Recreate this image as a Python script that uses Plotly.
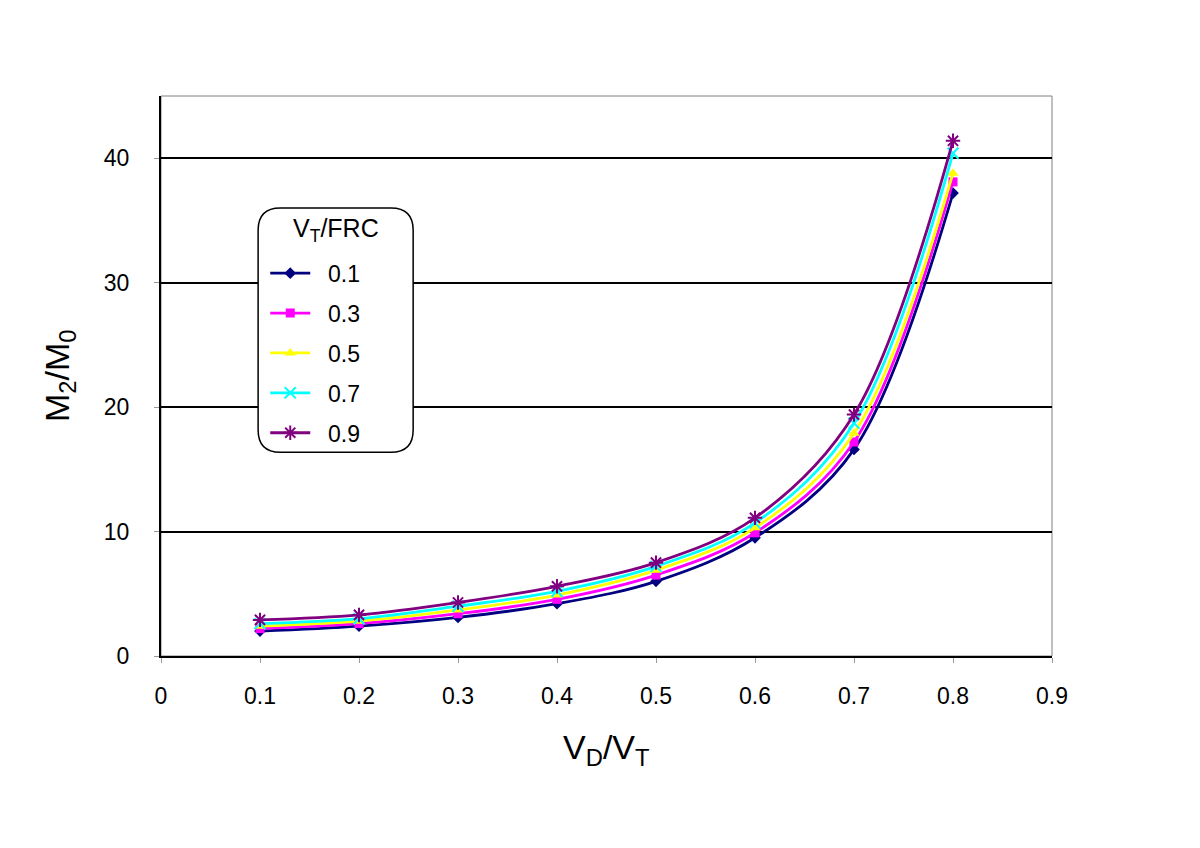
import plotly.graph_objects as go

x_vals = [0.1, 0.2, 0.3, 0.4, 0.5, 0.6, 0.7, 0.8]
series_names = ["0.1", "0.3", "0.5", "0.7", "0.9"]
y_01 = [2.0, 2.4, 3.1, 4.2, 6.0, 9.5, 16.6, 37.2]
y_03 = [2.2, 2.6, 3.4, 4.55, 6.5, 9.9, 17.2, 38.1]
y_05 = [2.4, 2.8, 3.7, 4.9, 6.9, 10.3, 17.9, 38.8]
y_07 = [2.6, 3.0, 4.0, 5.2, 7.2, 10.7, 18.7, 40.4]
y_09 = [2.9, 3.3, 4.3, 5.6, 7.5, 11.1, 19.4, 41.4]
x_ticks = [0, 0.1, 0.2, 0.3, 0.4, 0.5, 0.6, 0.7, 0.8, 0.9]
x_tick_labels = ["0", "0.1", "0.2", "0.3", "0.4", "0.5", "0.6", "0.7", "0.8", "0.9"]
y_ticks = [0, 10, 20, 30, 40]

series = [y_01, y_03, y_05, y_07, y_09]
colors = ["#000080", "#FF00FF", "#FFFF00", "#00FFFF", "#800080"]
symbols = ["diamond", "square", "triangle-up", "x-thin", "asterisk"]
sizes = [9, 9, 10, 11, 12]

FONT = "Liberation Sans, Arial, sans-serif"

fig = go.Figure()
for i, (name, ys) in enumerate(zip(series_names, series)):
    sym = symbols[i]
    marker = dict(symbol=sym, size=sizes[i], color=colors[i])
    if sym in ("x-thin", "asterisk"):
        marker["line"] = dict(color=colors[i], width=2)
    fig.add_trace(go.Scatter(
        x=x_vals, y=ys, name="\u00a0\u00a0" + name, mode="lines+markers",
        line=dict(color=colors[i], width=2.8, shape="spline"),
        marker=marker, legendgroup=name,
    ))

# plot frame (gray top/right)
fig.add_shape(type="rect", xref="paper", yref="paper", x0=0, x1=1, y0=0, y1=1,
              line=dict(color="#808080", width=1), layer="below")

# rounded legend box
lx0, lx1, ly0, ly1 = 0.109, 0.283, 0.364, 0.80
r = 0.025
ry = r * 891 / 560
path = (f"M {lx0+r},{ly1} L {lx1-r},{ly1} Q {lx1},{ly1} {lx1},{ly1-ry} "
        f"L {lx1},{ly0+ry} Q {lx1},{ly0} {lx1-r},{ly0} L {lx0+r},{ly0} "
        f"Q {lx0},{ly0} {lx0},{ly0+ry} L {lx0},{ly1-ry} Q {lx0},{ly1} {lx0+r},{ly1} Z")
fig.add_shape(type="path", xref="paper", yref="paper", path=path,
              line=dict(color="black", width=1.5), fillcolor="white", layer="above")

annotations = [
    dict(text="V<sub>T</sub>/FRC", xref="paper", yref="paper",
         x=(lx0 + lx1) / 2, y=(656 - 230) / 560, xanchor="center", yanchor="middle",
         showarrow=False, font=dict(size=25, family=FONT, color="black")),
    dict(text="V<sub>D</sub>/V<sub>T</sub>", xref="paper", yref="paper",
         x=0.5, y=0, xanchor="center", yanchor="top", yshift=-70,
         showarrow=False, font=dict(size=34, family=FONT, color="black")),
    dict(text="M<sub>2</sub>/M<sub>0</sub>", xref="paper", yref="paper",
         x=0, y=0.5, xanchor="center", yanchor="middle", xshift=-102, textangle=-90,
         showarrow=False, font=dict(size=34, family=FONT, color="black")),
]

fig.update_layout(
    width=1200, height=848,
    margin=dict(l=153, r=156, t=88, b=200),
    paper_bgcolor="white", plot_bgcolor="white",
    font=dict(family=FONT, color="black", size=22),
    showlegend=True,
    annotations=annotations,
    legend=dict(
        x=0.117, y=0.722, xanchor="left", yanchor="top",
        bgcolor="rgba(0,0,0,0)", borderwidth=0,
        font=dict(size=23, family=FONT),
        tracegroupgap=7, itemwidth=40,
    ),
    xaxis=dict(
        range=[0, 0.9], tickvals=x_ticks, ticktext=x_tick_labels,
        showgrid=False, zeroline=False,
        showline=True, linecolor="black", linewidth=2,
        ticks="outside", ticklen=5, tickcolor="#999999",
        ticklabelstandoff=13,
        tickfont=dict(size=23, family=FONT),
    ),
    yaxis=dict(
        range=[0, 45], tickvals=y_ticks,
        showgrid=True, gridcolor="black", gridwidth=1.5, zeroline=False,
        showline=True, linecolor="black", linewidth=2,
        ticks="outside", ticklen=5, tickcolor="#999999",
        ticklabelstandoff=20,
        tickfont=dict(size=23, family=FONT),
    ),
)

fig.write_html("out.html")
